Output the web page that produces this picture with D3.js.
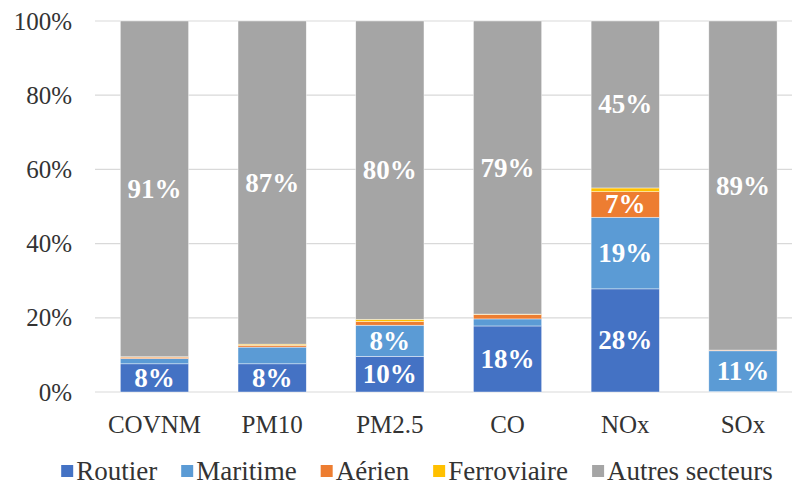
<!DOCTYPE html>
<html><head><meta charset="utf-8">
<script src="https://cdn.jsdelivr.net/npm/d3@7"></script>
<style>body{margin:0;background:#fff}svg{display:block}</style>
</head><body><svg id="c" width="792" height="486" font-family="Liberation Serif"></svg>
<script>
const categories = ["COVNM","PM10","PM2.5","CO","NOx","SOx"];
const seriesNames = ["Routier","Maritime","Aérien","Ferroviaire","Autres secteurs"];
const routier     = [7.6, 7.6, 9.6, 17.8, 27.8, 0.1];
const maritime    = [1.4, 4.5, 8.4, 1.9, 19.3, 11.0];
const aerien      = [0.4, 0.5, 1.0, 1.2, 6.9, 0.2];
const ferroviaire = [0.1, 0.3, 0.6, 0.1, 1.0, 0.0];
const autres      = [90.5, 87.1, 80.4, 79.0, 45.0, 88.7];
const yTicks = [0, 20, 40, 60, 80, 100];
const colors = ["#4472C4","#5B9BD5","#ED7D31","#FFC000","#A5A5A5"];
const SERIF = "Liberation Serif";

const seriesValues = [routier, maritime, aerien, ferroviaire, autres];
const rows = categories.map((c,i)=>{const r={cat:c}; seriesNames.forEach((s,j)=>r[s]=seriesValues[j][i]); return r;});
const stacked = d3.stack().keys(seriesNames)(rows);

const svg = d3.select("#c");
const x = d3.scaleBand().domain(categories).range([95.6, 801.8]).paddingInner(0.42).paddingOuter(0.21);
const y = d3.scaleLinear().domain([0,100]).range([392, 21]);

// gridlines
svg.append("g").selectAll("line").data(yTicks).join("line")
  .attr("x1",95).attr("x2",792).attr("y1",d=>y(d)).attr("y2",d=>y(d))
  .attr("stroke","#d9d9d9").attr("stroke-width",1.2);

// y axis labels
const yAxis = svg.append("g").attr("transform","translate(82,0)")
  .call(d3.axisLeft(y).tickValues(yTicks).tickFormat(d=>d+"%").tickSize(0).tickPadding(10));
yAxis.select(".domain").remove();
yAxis.attr("font-family", null).attr("font-size", null);
yAxis.selectAll("text").style("font-family",SERIF).style("font-size","25px").attr("fill","#333").attr("dy",8);

// x axis labels
const xAxis = svg.append("g").attr("transform","translate(0,405)")
  .call(d3.axisBottom(x).tickSize(0).tickPadding(0));
xAxis.select(".domain").remove();
xAxis.attr("font-family", null).attr("font-size", null);
xAxis.selectAll("text").style("font-family",SERIF).style("font-size","25px").attr("fill","#333").attr("dy",28);

// bars
const layers = svg.append("g").selectAll("g").data(stacked).join("g").attr("fill",(d,i)=>colors[i]);
layers.selectAll("rect").data(d=>d).join("rect")
  .attr("x",d=>x(d.data.cat)).attr("width",x.bandwidth())
  .attr("y",d=>y(d[1])).attr("height",d=>Math.max(0,y(d[0])-y(d[1])))
  .attr("stroke","#ffffff").attr("stroke-width",0.6).attr("stroke-opacity",0.7);

// data labels
const labels = svg.append("g");
stacked.forEach(layer=>{
  layer.forEach(d=>{
    const v = d[1]-d[0];
    if (v < 5) return;
    labels.append("text")
      .attr("x", x(d.data.cat)+x.bandwidth()/2)
      .attr("y", (y(d[0])+y(d[1]))/2 + 9)
      .attr("text-anchor","middle")
      .style("font-family",SERIF).style("font-size","27px").style("font-weight","bold")
      .attr("fill","#fff")
      .text(Math.round(v)+"%");
  });
});

// legend
const lg = svg.append("g");
let cx = 0;
const gap = 24;
seriesNames.forEach((s,i)=>{
  const g = lg.append("g");
  g.append("rect").attr("x",0).attr("y",-6).attr("width",12).attr("height",12).attr("fill",colors[i]);
  const t = g.append("text").attr("x",15).attr("y",9)
    .style("font-family",SERIF).style("font-size","27px").attr("fill","#333").text(s);
  const w = 15 + t.node().getComputedTextLength();
  g.attr("transform",`translate(${cx},0)`);
  cx += w + gap;
});
const total = cx - gap;
lg.attr("transform",`translate(${417-total/2},471)`);
</script></body></html>
